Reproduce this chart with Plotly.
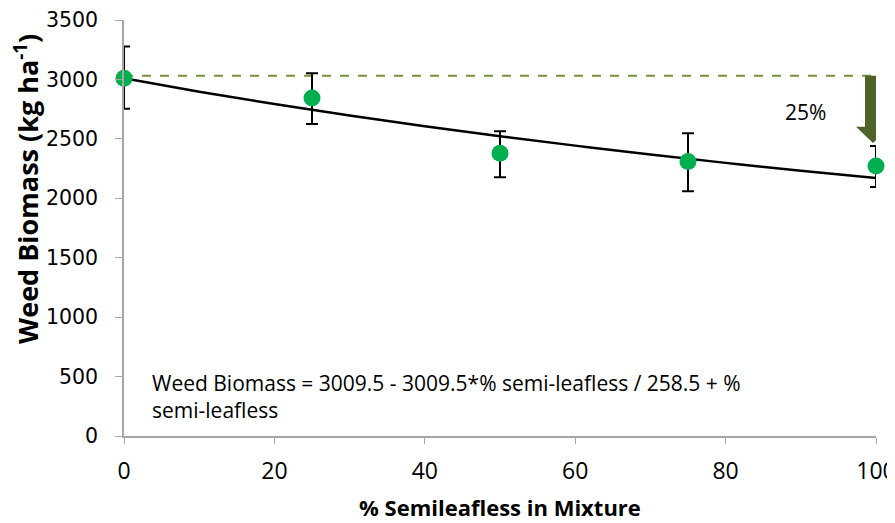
import plotly.graph_objects as go

# Observed data
pct_semileafless = [0, 25, 50, 75, 100]
weed_biomass = [3010, 2843, 2378, 2310, 2271]
err_plus = [267, 210, 187, 238, 168]
err_minus = [257, 219, 200, 250, 177]

# Fitted curve
fit_x = [0, 10, 20, 30, 40, 50, 60, 70, 80, 90, 100]
fit_y = [3009.5, 2897, 2793, 2697, 2606, 2522, 2443, 2368, 2298, 2232, 2170]

ref_level = 3030      # dashed reference line level
arrow_tip = 2465      # arrow tip
arrow_neck = 2602     # where the arrow head starts
reduction_label = "25%"

x_ticks = [0, 20, 40, 60, 80, 100]
y_ticks = [0, 500, 1000, 1500, 2000, 2500, 3000, 3500]

FONT = "Open Sans"
olive = "#4F6228"

fig = go.Figure()

fig.add_trace(go.Scatter(
    x=[pct_semileafless[0], pct_semileafless[-1]], y=[ref_level, ref_level],
    mode="lines", line=dict(color="#76923C", width=2, dash="dash"),
    hoverinfo="skip", showlegend=False))

fig.add_trace(go.Scatter(
    x=fit_x, y=fit_y, mode="lines", line=dict(color="black", width=2.5, shape="spline"),
    showlegend=False))

fig.add_trace(go.Scatter(
    x=pct_semileafless, y=weed_biomass, mode="markers",
    marker=dict(color="#00B050", size=17),
    error_y=dict(type="data", symmetric=False, array=err_plus, arrayminus=err_minus,
                 color="black", thickness=2, width=6),
    showlegend=False, cliponaxis=False))

# Block arrow at x=100 (pixel-width, data-height)
path = (f"M -11,{ref_level} L 6,{ref_level} L 6,{arrow_neck} L 14,{arrow_neck} "
        f"L -3,{arrow_tip} L -20,{arrow_neck} L -11,{arrow_neck} Z")
fig.add_shape(type="path", path=path, xref="x", yref="y", xsizemode="pixel",
              xanchor=pct_semileafless[-1], fillcolor=olive, line=dict(width=0))

fig.add_annotation(x=90.6, y=2725, text=reduction_label, showarrow=False,
                   font=dict(family=FONT, size=21, color="black"))

fig.add_annotation(x=3.4, y=330, xanchor="left", yanchor="middle", align="left",
                   text="Weed Biomass = 3009.5 - 3009.5*% semi-leafless / 258.5 + %<br>semi-leafless",
                   showarrow=False, font=dict(family=FONT, size=21, color="black"))

# Y-axis title (placed like the original, above the vertical centre)
fig.add_annotation(xref="paper", yref="paper", x=0, y=0.594, xshift=-97,
                   xanchor="center", yanchor="middle", textangle=-90, showarrow=False,
                   text="<b>Weed Biomass (kg ha<sup>-1</sup>)</b>",
                   font=dict(family=FONT, size=27, color="black"))

# X-axis title
fig.add_annotation(xref="paper", yref="paper", x=0.5, y=0, yshift=-71,
                   xanchor="center", yanchor="middle", showarrow=False,
                   text="<b>% Semileafless in Mixture</b>",
                   font=dict(family=FONT, size=22, color="black"))

# The page body adds an 8 px offset, so margins are trimmed to keep the plot area in place.
fig.update_layout(
    width=895, height=523,
    margin=dict(l=116, r=27, t=12, b=95),
    paper_bgcolor="white", plot_bgcolor="white",
    font=dict(family=FONT, size=17, color="black"),
    xaxis=dict(range=[0, 100], tickvals=x_ticks, showgrid=False, zeroline=False,
               showline=True, linecolor="#A6A6A6", linewidth=1.5,
               ticks="outside", ticklen=6, tickcolor="#A6A6A6",
               tickfont=dict(family=FONT, size=23), ticklabelstandoff=8,
               ticklabeloverflow="allow", automargin=False),
    yaxis=dict(range=[0, 3500], tickvals=y_ticks, showgrid=False, zeroline=False,
               showline=True, linecolor="#A6A6A6", linewidth=1.5,
               ticks="outside", ticklen=7, tickcolor="#A6A6A6",
               tickfont=dict(family="DejaVu Sans", size=20.5), ticklabelstandoff=13,
               ticklabeloverflow="allow", automargin=False),
)

fig.write_html("out.html")
